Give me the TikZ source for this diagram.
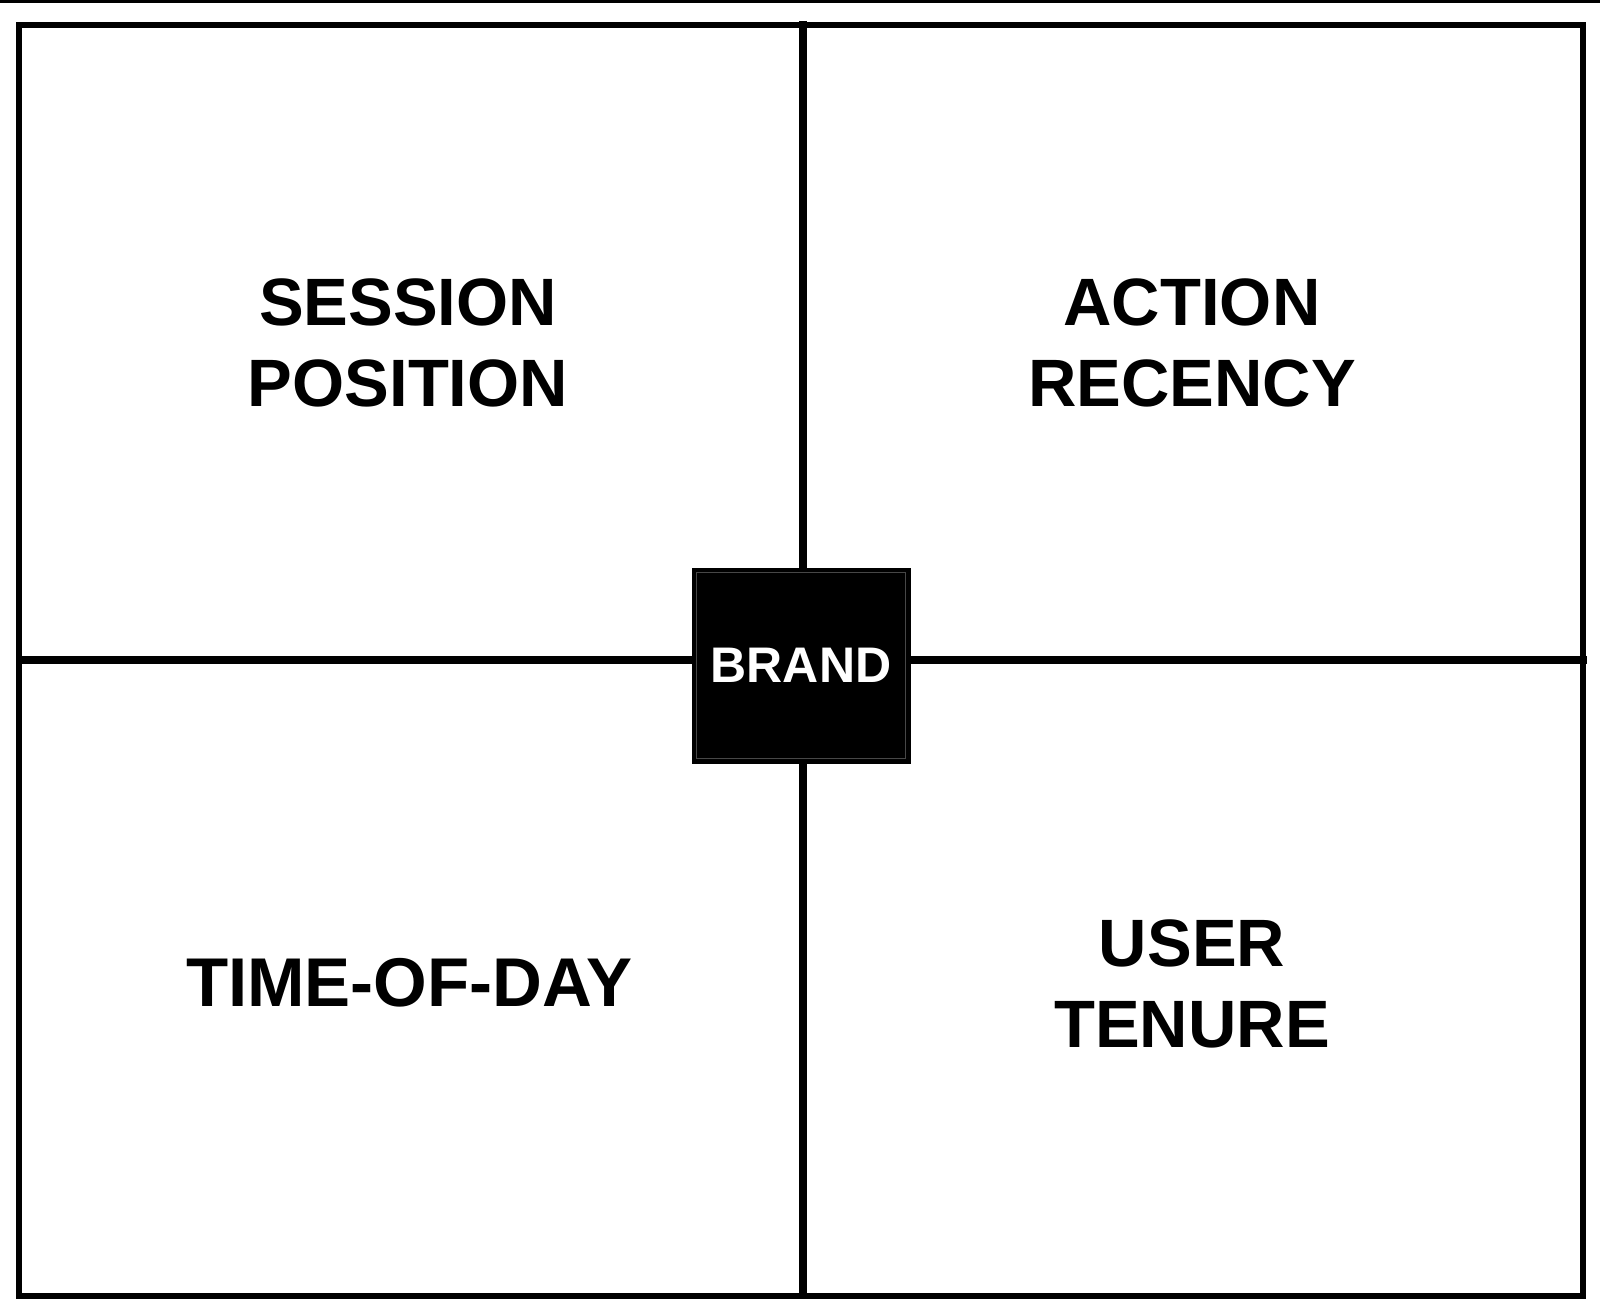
\documentclass[tikz,border=0pt]{standalone}
\usepackage{fontspec}
\setmainfont{Liberation Sans}
\begin{document}
\begin{tikzpicture}[x=1pt,y=-1pt,
  frame/.style={draw=black,line width=5.5pt},
  divider/.style={draw=black,line width=7.5pt},
  label/.style={inner sep=0pt,align=center,text=black,font=\fontsize{67}{81}\selectfont\bfseries},
  brandbox/.style={fill=black,draw=black,line width=1pt,minimum width=218pt,minimum height=195pt,inner sep=0pt,
    text=white,font=\fontsize{50}{58}\selectfont\bfseries}]
\useasboundingbox (0,0) rectangle (1600,1308);
\fill[white] (0,0) rectangle (1600,1308);
% top rule
\coordinate (tl) at (0,1.5);
\coordinate (tr) at (1600,1.5);
\draw[line width=3pt] (tl) -- (tr);
% outer frame
\coordinate (fa) at (19,25);
\coordinate (fb) at (1583,1296);
\draw[frame] (fa) rectangle (fb);
% dividers
\coordinate (vtop) at (803,21);
\coordinate (vbot) at (803,1296);
\coordinate (hleft) at (17,660);
\coordinate (hright) at (1587,660);
\draw[divider] (vtop) -- (vbot);
\draw[divider] (hleft) -- (hright);
% center box
\node[brandbox] (brand) at (801,665.5) {BRAND};
\draw[black!72,line width=1pt] ([shift={(5,-5)}]brand.south west) rectangle ([shift={(-5,5)}]brand.north east);
% quadrant labels
\node[label] (session) at (408,343) {SESSION\\POSITION};
\node[label] (action) at (1192,343) {ACTION\\RECENCY};
\node[label,font=\fontsize{69}{81}\selectfont\bfseries] (time) at (409,982.5) {TIME-OF-DAY};
\node[label] (user) at (1192,984) {USER\\TENURE};
\end{tikzpicture}
\end{document}
